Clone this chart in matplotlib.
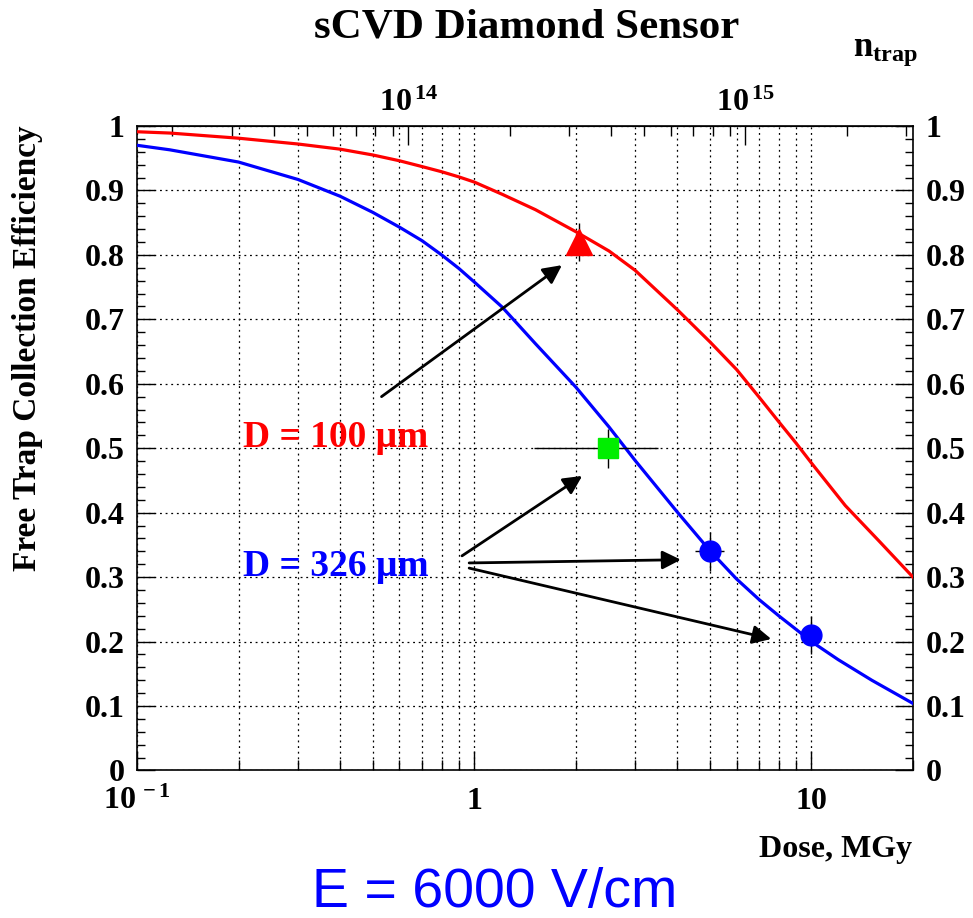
import numpy as np
import matplotlib
matplotlib.use("Agg")
import matplotlib.pyplot as plt
from matplotlib.ticker import LogLocator, FuncFormatter, NullFormatter, MultipleLocator, FixedLocator

plt.rcParams['font.family'] = 'Liberation Serif'
plt.rcParams['font.weight'] = 'bold'
plt.rcParams['mathtext.fontset'] = 'custom'
plt.rcParams['mathtext.rm'] = 'Liberation Serif:bold'
plt.rcParams['mathtext.bf'] = 'Liberation Serif:bold'
plt.rcParams['mathtext.it'] = 'Liberation Serif:bold'

# curves (dose in MGy, free trap collection efficiency)
dose_100 = [0.1, 0.125, 0.2, 0.3, 0.4, 0.5, 0.6, 0.7, 0.8, 0.9, 1.0, 1.21, 1.52, 2.0, 2.51, 3.0, 4.0, 5.0, 6.0,
            7.0, 8.0, 9.0, 10.0, 12.6, 15.8, 20.0]
eff_100 = [0.991, 0.989, 0.981, 0.972, 0.964, 0.955, 0.946, 0.937, 0.929, 0.921, 0.913, 0.894, 0.870, 0.836,
           0.806, 0.776, 0.715, 0.665, 0.622, 0.579, 0.541, 0.508, 0.477, 0.411, 0.357, 0.300]

dose_326 = [0.1, 0.125, 0.2, 0.3, 0.4, 0.5, 0.6, 0.7, 0.8, 0.9, 1.0, 1.21, 1.52, 2.0, 2.51, 3.0, 4.0, 5.0, 6.0,
            7.0, 8.0, 9.0, 10.0, 12.0, 15.1, 20.0]
eff_326 = [0.970, 0.963, 0.944, 0.917, 0.891, 0.866, 0.843, 0.822, 0.800, 0.779, 0.758, 0.719, 0.662, 0.595,
           0.533, 0.481, 0.401, 0.341, 0.297, 0.265, 0.240, 0.219, 0.200, 0.172, 0.140, 0.104]

# measured points
tri_x, tri_y, tri_ey = [2.05], [0.82], [0.03]
sq_x, sq_y, sq_ex, sq_ey = [2.5], [0.5], [1.0], [0.03]
circ_x = [5.0, 10.0]
circ_y = [0.34, 0.21]
circ_ex = [0.5, 0.0]
circ_ey = [0.03, 0.03]

# dose -> n_trap conversion for the top axis
ntrap_per_mgy = 1.57e14
ntrap_major = [1e14, 1e15]
ntrap_minor = [2e13, 3e13, 4e13, 5e13, 6e13, 7e13, 8e13, 9e13, 2e14, 3e14, 4e14, 5e14, 6e14, 7e14, 8e14, 9e14,
               2e15, 3e15]

fig = plt.figure(figsize=(9.73, 9.18), dpi=100)
ax = fig.add_axes([0.1408, 0.1607, 0.7975, 0.7021])

ax.set_xscale('log')
ax.set_xlim(0.1, 20)
ax.set_ylim(0, 1)

ax.plot(dose_100, eff_100, color='red', lw=2.3, zorder=3)
ax.plot(dose_326, eff_326, color='blue', lw=2.3, zorder=3)

ax.errorbar(tri_x, tri_y, yerr=tri_ey, fmt='^', color='red', ms=19, ecolor='black', elinewidth=1, capsize=0,
            zorder=4)
ax.errorbar(sq_x, sq_y, xerr=sq_ex, yerr=sq_ey, fmt='s', color='#00ee00', ms=14, ecolor='black', elinewidth=1,
            capsize=0, zorder=4)
ax.errorbar(circ_x, circ_y, xerr=circ_ex, yerr=circ_ey, fmt='o', color='blue', ms=15, ecolor='black',
            elinewidth=1, capsize=0, zorder=4)

arrow = dict(arrowstyle='-|>', color='black', lw=2, mutation_scale=28, shrinkA=0, shrinkB=0)
ax.annotate('', xy=(1.82, 0.784), xytext=(0.531, 0.58), arrowprops=arrow)
ax.annotate('', xy=(2.09, 0.457), xytext=(0.92, 0.333), arrowprops=arrow)
ax.annotate('', xy=(4.1, 0.327), xytext=(0.966, 0.322), arrowprops=arrow)
ax.annotate('', xy=(7.6, 0.204), xytext=(0.966, 0.314), arrowprops=arrow)

ax.text(0.206, 0.517, 'D = 100 μm', color='red', fontsize=27, va='center', ha='left')
ax.text(0.206, 0.316, 'D = 326 μm', color='blue', fontsize=27, va='center', ha='left')

# ROOT-ish grid and ticks
ax.grid(True, which='both', axis='x', ls=(0, (1.5, 3)), color='black', lw=0.9)
ax.yaxis.grid(True, which='major', ls=(0, (1.5, 3)), color='black', lw=0.9)
ax.yaxis.set_major_locator(MultipleLocator(0.1))
ax.yaxis.set_minor_locator(MultipleLocator(0.02))
ax.yaxis.set_major_formatter(FuncFormatter(lambda v, p: '%g' % round(v, 1)))
ax.xaxis.set_major_locator(LogLocator(base=10))
ax.xaxis.set_minor_locator(LogLocator(base=10, subs=np.arange(2, 10)))
ax.xaxis.set_minor_formatter(NullFormatter())


def dose_label(v, p):
    if v < 0.5:
        return r'$10^{\,-1}$'
    return '%g' % v


ax.xaxis.set_major_formatter(FuncFormatter(dose_label))
ax.tick_params(axis='x', which='major', direction='in', length=14, width=1, labelsize=23, pad=12, top=False)
ax.tick_params(axis='x', which='minor', direction='in', length=7, width=1, top=False)
ax.tick_params(axis='y', which='major', direction='in', length=13, width=1, labelsize=23, pad=9,
               right=True, labelright=True)
ax.tick_params(axis='y', which='minor', direction='in', length=6, width=1, right=True)
for s in ax.spines.values():
    s.set_linewidth(1.2)

top = ax.secondary_xaxis('top', functions=(lambda d: d * ntrap_per_mgy, lambda n: n / ntrap_per_mgy))
top.xaxis.set_major_locator(FixedLocator(ntrap_major))
top.xaxis.set_minor_locator(FixedLocator(ntrap_minor))
top.xaxis.set_major_formatter(FuncFormatter(lambda v, p: r'$10^{\,%d}$' % round(np.log10(v))))
top.xaxis.set_minor_formatter(NullFormatter())
top.tick_params(which='major', direction='in', length=14, width=1, labelsize=23, pad=6)
top.tick_params(which='minor', direction='in', length=7, width=1)

fig.text(527 / 973, 1 - 28 / 918, 'sCVD Diamond Sensor', fontsize=31, ha='center', va='center')
fig.text(885 / 973, 1 - 52 / 918, r'$n_{trap}$', fontsize=25, ha='center', va='center')
fig.text(912 / 973, 1 - 850 / 918, 'Dose, MGy', fontsize=23, ha='right', va='center')
fig.text(28 / 973, 1 - 348 / 918, 'Free Trap Collection Efficiency', fontsize=24, rotation=90,
         ha='center', va='center')
fig.text(495 / 973, 1 - 893 / 918, 'E = 6000 V/cm', fontsize=40, color='blue', ha='center', va='center',
         family='Liberation Sans', weight='normal')

fig.savefig('out.png', dpi=100)
